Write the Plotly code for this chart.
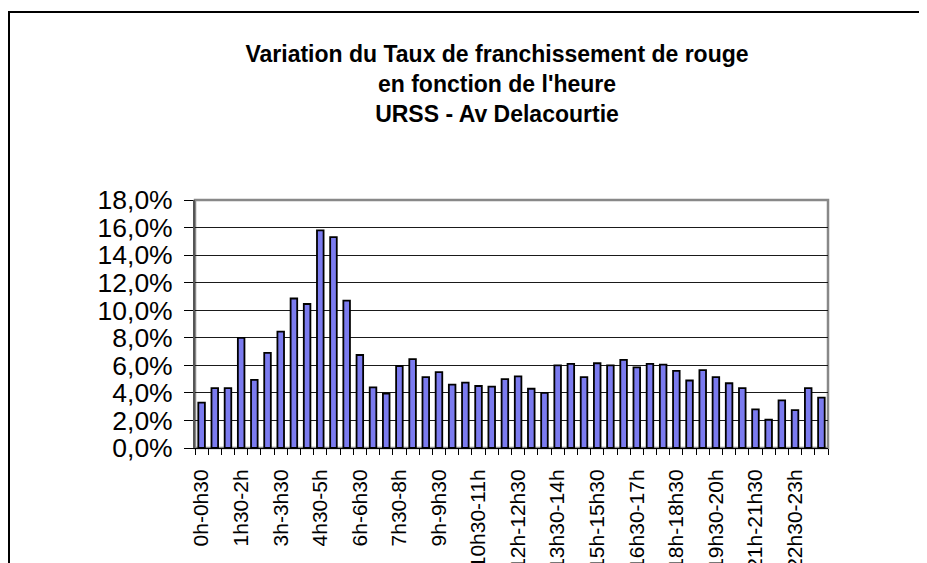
import plotly.graph_objects as go

categories = ["0h-0h30","0h30-1h","1h-1h30","1h30-2h","2h-2h30","2h30-3h","3h-3h30","3h30-4h",
              "4h-4h30","4h30-5h","5h-5h30","5h30-6h","6h-6h30","6h30-7h","7h-7h30","7h30-8h",
              "8h-8h30","8h30-9h","9h-9h30","9h30-10h","10h-10h30","10h30-11h","11h-11h30","11h30-12h",
              "12h-12h30","12h30-13h","13h-13h30","13h30-14h","14h-14h30","14h30-15h","15h-15h30","15h30-16h",
              "16h-16h30","16h30-17h","17h-17h30","17h30-18h","18h-18h30","18h30-19h","19h-19h30","19h30-20h",
              "20h-20h30","20h30-21h","21h-21h30","21h30-22h","22h-22h30","22h30-23h","23h-23h30","23h30-24h"]

taux_pct = [3.3, 4.35, 4.35, 8.0, 4.95, 6.9, 8.45, 10.85,
            10.45, 15.8, 15.3, 10.7, 6.75, 4.4, 3.95, 5.95,
            6.45, 5.15, 5.5, 4.6, 4.75, 4.5, 4.45, 5.0,
            5.2, 4.3, 4.0, 6.0, 6.1, 5.15, 6.15, 6.0,
            6.4, 5.85, 6.1, 6.05, 5.6, 4.9, 5.65, 5.15,
            4.7, 4.35, 2.8, 2.05, 3.45, 2.75, 4.35, 3.65]

y_ticks = [0.0, 0.02, 0.04, 0.06, 0.08, 0.10, 0.12, 0.14, 0.16, 0.18]

title_lines = ["Variation du Taux de franchissement de rouge",
               "en fonction de l'heure",
               "URSS - Av Delacourtie"]

x_pos = list(range(len(categories)))
values = [v / 100 for v in taux_pct]
label_every = 3

# page has an 8px body margin: figure pixel = page pixel - 8
OFF = 8
W, H = 927 - OFF, 563 - OFF
L = 195 - OFF
T = 200 - OFF
R = W - (828 - OFF)
B = H - (448 - OFF)
pw, ph = W - L - R, H - T - B

fig = go.Figure(go.Bar(
    x=x_pos, y=values, customdata=categories,
    marker=dict(color="#7B7BEF", line=dict(color="black", width=1.8)),
    hovertemplate="%{customdata}: %{y:.1%}<extra></extra>",
))

font_family = "Liberation Sans, Arial, sans-serif"

fig.update_layout(
    width=W, height=H,
    margin=dict(l=L, r=R, t=T, b=B, autoexpand=False),
    paper_bgcolor="white", plot_bgcolor="white",
    separators=", ",
    bargap=0.5,
    showlegend=False,
    font=dict(family=font_family, color="black"),
    title=dict(
        text="<b>" + "<br>".join(title_lines) + "</b>",
        x=(497 - OFF) / W, xanchor="center", xref="container",
        y=1 - (83 - OFF - 21) / H, yanchor="middle", yref="container",
        font=dict(size=23, family=font_family, color="black"),
    ),
    xaxis=dict(
        range=[-0.5, len(categories) - 0.5],
        tickmode="array",
        tickvals=x_pos[::label_every],
        ticktext=categories[::label_every],
        tickangle=-90,
        ticks="",
        ticklabelstandoff=12,
        tickfont=dict(size=21, family=font_family, color="black"),
        showgrid=False, zeroline=False,
        showline=True, linecolor="black", linewidth=1,
        automargin=False,
        minor=dict(tickmode="array",
                   tickvals=[p - 0.5 for p in x_pos] + [x_pos[-1] + 0.5],
                   ticks="outside", ticklen=6, tickcolor="black", tickwidth=1,
                   showgrid=False),
    ),
    yaxis=dict(
        range=[0, 0.18],
        tickmode="array", tickvals=y_ticks,
        tickformat=".1%",
        ticks="outside", ticklen=9, tickcolor="black", tickwidth=1,
        ticklabelstandoff=6,
        tickfont=dict(size=26.5, family=font_family, color="black"),
        showgrid=True, gridcolor="#1a1a1a", gridwidth=1,
        zeroline=False,
        showline=True, linecolor="#555555", linewidth=2,
        automargin=False,
    ),
    shapes=[
        # plot area border (top/right gray)
        dict(type="rect", xref="x domain", yref="y domain", x0=0, x1=1, y0=0, y1=1,
             line=dict(color="#888888", width=2.5), layer="below"),
        # outer chart border
        dict(type="rect", xref="paper", yref="paper",
             x0=(1 - L) / pw, x1=(W + 20 - L) / pw,
             y0=(H - B - (H + 40)) / ph, y1=(H - B - (12 - OFF)) / ph,
             line=dict(color="black", width=2), layer="below"),
    ],
)

fig.write_html("out.html")
